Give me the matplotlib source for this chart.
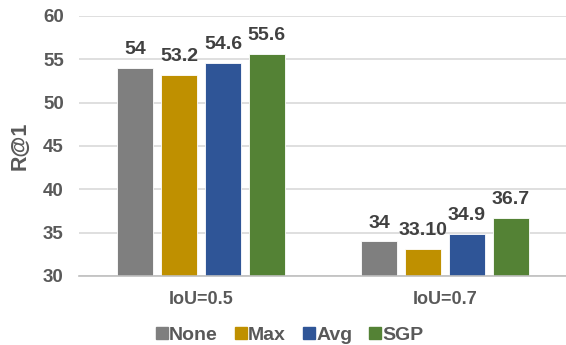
import matplotlib.pyplot as plt
import numpy as np

plt.rcParams['font.family'] = ['Liberation Sans', 'DejaVu Sans']

categories = ['IoU=0.5', 'IoU=0.7']
methods = ['None', 'Max', 'Avg', 'SGP']
none_vals = [54, 34]
max_vals = [53.2, 33.1]
avg_vals = [54.6, 34.9]
sgp_vals = [55.6, 36.7]
none_labels = ['54', '34']
max_labels = ['53.2', '33.10']
avg_labels = ['54.6', '34.9']
sgp_labels = ['55.6', '36.7']

series = [none_vals, max_vals, avg_vals, sgp_vals]
labels = [none_labels, max_labels, avg_labels, sgp_labels]
colors = ['#7f7f7f', '#bf9000', '#2f5597', '#548235']
txt = '#595959'

fig = plt.figure(figsize=(5.66, 3.45), dpi=100)
ax = fig.add_axes([79 / 566, 1 - 276 / 345, 488 / 566, 260 / 345])

x = np.arange(len(categories))
w = 0.148
step = 0.18
for i, (vals, labs, c) in enumerate(zip(series, labels, colors)):
    pos = x + (i - 1.5) * step
    bars = ax.bar(pos, vals, w, color=c, label=methods[i], zorder=3,
                  edgecolor='white', linewidth=0.6)
    for b, l in zip(bars, labs):
        ax.annotate(l, (b.get_x() + b.get_width() / 2, b.get_height()),
                    xytext=(0, 7), textcoords='offset points',
                    ha='center', va='bottom', fontsize=14,
                    fontweight='bold', color='#404040')

ax.set_xlim(-0.5, 1.5)
ax.set_ylim(30, 60)
ax.set_yticks(range(30, 61, 5))
ax.yaxis.grid(True, color='#d9d9d9', linewidth=1.2, zorder=0)
for s in ['top', 'right', 'left']:
    ax.spines[s].set_visible(False)
ax.spines['bottom'].set_color('#bfbfbf')
ax.spines['bottom'].set_linewidth(1.2)
ax.spines['bottom'].set_zorder(4)
ax.set_xticks(x)
ax.set_xticklabels(categories)
ax.tick_params(axis='x', length=0, pad=11, labelsize=13, labelcolor=txt)
ax.tick_params(axis='y', length=0, pad=11, labelsize=13.5, labelcolor=txt)
for t in ax.get_yticklabels() + ax.get_xticklabels():
    t.set_fontweight('bold')
ax.set_ylabel('R@1', fontsize=15.5, fontweight='bold', color=txt, labelpad=9)

handles = [plt.Line2D([], [], marker='s', linestyle='', markersize=8.6,
                      color=c) for c in colors]
fig.legend(handles, methods, loc='center', bbox_to_anchor=(289 / 566, 1 - 335 / 345),
           ncol=4, frameon=False, handletextpad=0.0, columnspacing=0.8,
           handlelength=0.75, prop={'size': 14, 'weight': 'bold'},
           labelcolor=txt)

fig.savefig('out.png', dpi=100)
